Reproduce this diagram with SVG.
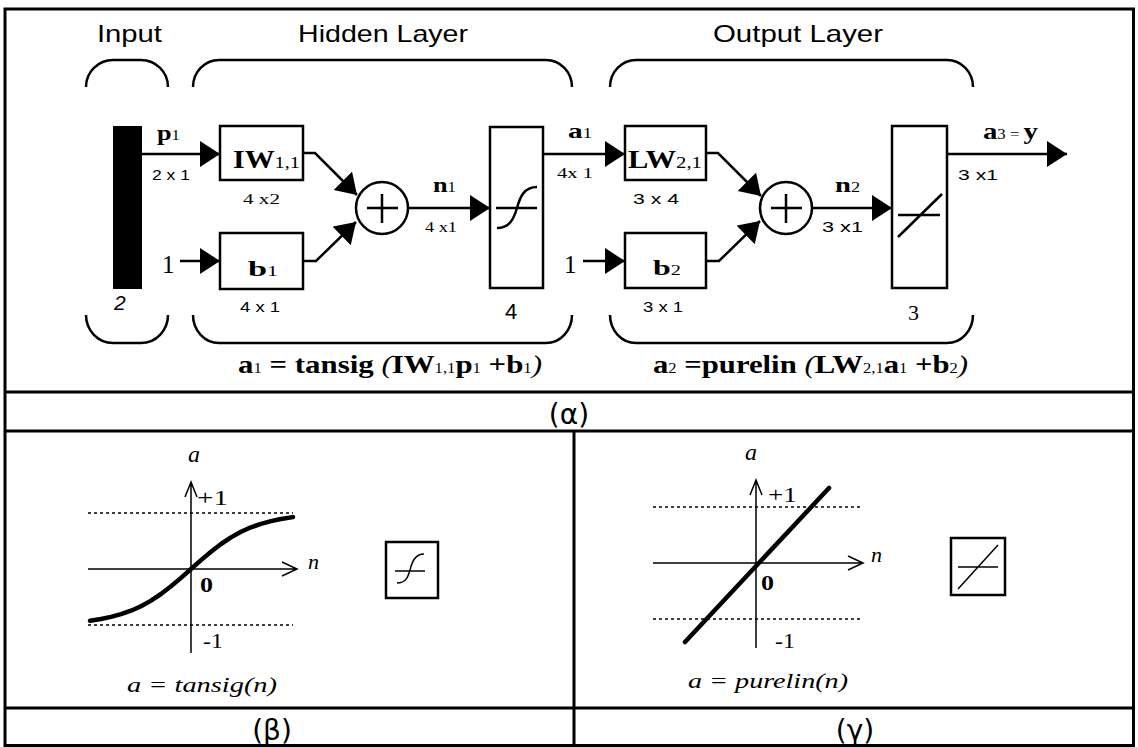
<svg xmlns="http://www.w3.org/2000/svg" width="1138" height="747" viewBox="0 0 1138 747">
<defs>
<style>
.tb{fill:none;stroke:#000;stroke-width:3}
.bx{fill:#fff;stroke:#000;stroke-width:2.5}
.ln{fill:none;stroke:#000;stroke-width:2.5}
.ax{fill:none;stroke:#000;stroke-width:1.5}
.dt{fill:none;stroke:#000;stroke-width:1.3;stroke-dasharray:3 3}
.cv{fill:none;stroke:#000;stroke-width:4.5;stroke-linecap:round;stroke-linejoin:round}
.ti{font-family:"Liberation Sans",Arial,sans-serif;font-size:24px}
.sv{font-family:"Liberation Serif","Times New Roman",serif}
.b{font-weight:bold}
.sm{font-size:14px;font-weight:normal}
.ds{font-family:"Liberation Sans",Arial,sans-serif;font-size:15px}
.cap{font-family:"DejaVu Sans",sans-serif;font-size:28px}
.it{font-style:italic}
</style>
<marker id="ah" markerUnits="userSpaceOnUse" markerWidth="22" markerHeight="28" viewBox="0 0 22 28" refX="20" refY="13" orient="auto">
<path d="M0,0 L20,13 L0,26 z" fill="#000"/>
</marker>
</defs>
<rect width="1138" height="747" fill="#fff"/>

<g id="table">
<rect x="5" y="9" width="1128.5" height="736.5" class="tb"/>
<line x1="5" y1="392" x2="1133.5" y2="392" class="tb"/>
<line x1="5" y1="431" x2="1133.5" y2="431" class="tb"/>
<line x1="5" y1="708" x2="1133.5" y2="708" class="tb"/>
<line x1="574" y1="431" x2="574" y2="745.5" class="tb"/>
</g>

<g id="titles">
<text x="97" y="42" class="ti" textLength="65" lengthAdjust="spacingAndGlyphs">Input</text>
<text x="298" y="42" class="ti" textLength="170" lengthAdjust="spacingAndGlyphs">Hidden Layer</text>
<text x="713" y="42" class="ti" textLength="170" lengthAdjust="spacingAndGlyphs">Output Layer</text>
</g>

<g id="brackets" class="ln">
<path d="M86,87 A27,27 0 0 1 113,60 H141 A27,27 0 0 1 168,87"/>
<path d="M193,87 A26,27 0 0 1 219,60 H546 A26,27 0 0 1 572,87"/>
<path d="M610,87 A26,27 0 0 1 636,60 H947 A26,27 0 0 1 973,87"/>
<path d="M86,315 A27,28 0 0 0 113,343 H141 A27,28 0 0 0 168,315"/>
<path d="M193,315 A26,28 0 0 0 219,343 H546 A26,28 0 0 0 572,315"/>
<path d="M610,315 A26,28 0 0 0 636,343 H947 A26,28 0 0 0 973,315"/>
</g>

<g id="connectors" class="ln">
<path d="M142,154 H220" marker-end="url(#ah)"/>
<path d="M180,261 H220" marker-end="url(#ah)"/>
<path d="M303,153 H315 L357,195" marker-end="url(#ah)"/>
<path d="M303,261 H316 L356,222" marker-end="url(#ah)"/>
<path d="M408,208 H490" marker-end="url(#ah)"/>
<path d="M543,154 H625" marker-end="url(#ah)"/>
<path d="M583,261 H625" marker-end="url(#ah)"/>
<path d="M706,153 H718 L761,196" marker-end="url(#ah)"/>
<path d="M706,261 H719 L760,221" marker-end="url(#ah)"/>
<path d="M812,208 H892" marker-end="url(#ah)"/>
<path d="M947,154 H1067" marker-end="url(#ah)"/>
</g>

<g id="input">
<rect x="113" y="126" width="29" height="163" fill="#000"/>
<text x="114" y="310" font-family="Liberation Sans,Arial,sans-serif" font-size="21" font-style="italic">2</text>
<text x="157" y="140" class="sv b" font-size="22" textLength="23" lengthAdjust="spacingAndGlyphs">p<tspan class="sm">1</tspan></text>
<text x="152" y="180" class="ds" textLength="38" lengthAdjust="spacingAndGlyphs">2 x 1</text>
<text x="162" y="273" class="sv" font-size="25">1</text>
</g>

<g id="iw">
<rect x="220" y="126" width="83" height="54" class="bx"/>
<text x="233" y="168" class="sv b" font-size="25" textLength="67" lengthAdjust="spacingAndGlyphs">IW<tspan font-size="17" font-weight="normal">1,1</tspan></text>
<text x="243" y="204" class="sv" font-size="15" textLength="37" lengthAdjust="spacingAndGlyphs">4 x2</text>
</g>

<g id="b1">
<rect x="220" y="233" width="83" height="56" class="bx"/>
<text x="248" y="276" class="sv b" font-size="22" textLength="30" lengthAdjust="spacingAndGlyphs">b<tspan class="sm">1</tspan></text>
<text x="240" y="312" class="ds" textLength="40" lengthAdjust="spacingAndGlyphs">4 x 1</text>
</g>

<g id="sum1">
<circle cx="382" cy="208" r="26" class="bx"/>
<path d="M367,208 H398 M382,194 V223" class="ln"/>
<text x="433" y="192" class="sv b" font-size="22" textLength="23" lengthAdjust="spacingAndGlyphs">n<tspan class="sm">1</tspan></text>
<text x="425" y="232" class="sv" font-size="15" textLength="32" lengthAdjust="spacingAndGlyphs">4 x1</text>
</g>

<g id="tansig">
<rect x="490" y="127" width="53" height="161" class="bx"/>
<path d="M496,208 H537 M497,228 C510,228 514,218 517,208 C520,197 524,187 537,187" class="ln"/>
<text x="505" y="319" font-family="Liberation Sans,Arial,sans-serif" font-size="22">4</text>
<text x="568" y="138" class="sv b" font-size="22" textLength="24" lengthAdjust="spacingAndGlyphs">a<tspan class="sm">1</tspan></text>
<text x="557" y="178" class="sv" font-size="15" textLength="36" lengthAdjust="spacingAndGlyphs">4x 1</text>
</g>

<g id="lw">
<rect x="625" y="126" width="81" height="54" class="bx"/>
<text x="628" y="168" class="sv b" font-size="25" textLength="74" lengthAdjust="spacingAndGlyphs">LW<tspan font-size="17" font-weight="normal">2,1</tspan></text>
<text x="633" y="204" class="ds" textLength="46" lengthAdjust="spacingAndGlyphs">3 x 4</text>
</g>

<g id="b2">
<text x="564" y="273" class="sv" font-size="25">1</text>
<rect x="625" y="233" width="81" height="55" class="bx"/>
<text x="653" y="275" class="sv b" font-size="22" textLength="28" lengthAdjust="spacingAndGlyphs">b<tspan class="sm">2</tspan></text>
<text x="643" y="312" class="ds" textLength="40" lengthAdjust="spacingAndGlyphs">3 x 1</text>
</g>

<g id="sum2">
<circle cx="786" cy="208" r="26" class="bx"/>
<path d="M771,208 H802 M786,194 V223" class="ln"/>
<text x="835" y="192" class="sv b" font-size="22" textLength="25" lengthAdjust="spacingAndGlyphs">n<tspan class="sm">2</tspan></text>
<text x="822" y="232" class="ds" textLength="41" lengthAdjust="spacingAndGlyphs">3 x1</text>
</g>

<g id="purelin">
<rect x="892" y="126" width="55" height="162" class="bx"/>
<path d="M898,215 H940 M898,237 L942,194" class="ln"/>
<text x="908" y="320" class="sv" font-size="22">3</text>
<text x="983" y="139" class="sv b" font-size="24" textLength="55" lengthAdjust="spacingAndGlyphs">a<tspan class="sm">3 = </tspan>y</text>
<text x="958" y="180" class="ds" textLength="40" lengthAdjust="spacingAndGlyphs">3 x1</text>
</g>

<g id="formulas">
<text x="238" y="373" class="sv b" font-size="26" textLength="304" lengthAdjust="spacingAndGlyphs">a<tspan class="sm">1</tspan> = tansig <tspan class="it" font-weight="normal">(</tspan>IW<tspan class="sm">1,1</tspan>p<tspan class="sm">1</tspan> +b<tspan class="sm">1</tspan><tspan class="it" font-weight="normal">)</tspan></text>
<text x="653" y="373" class="sv b" font-size="26" textLength="315" lengthAdjust="spacingAndGlyphs">a<tspan class="sm">2</tspan> =purelin <tspan class="it" font-weight="normal">(</tspan>LW<tspan class="sm">2,1</tspan>a<tspan class="sm">1</tspan> +b<tspan class="sm">2</tspan><tspan class="it" font-weight="normal">)</tspan></text>
</g>

<g id="captions" class="cap" text-anchor="middle">
<text x="569" y="424">(α)</text>
<text x="272" y="740">(β)</text>
<text x="855" y="740">(γ)</text>
</g>

<g id="tansig-plot">
<line x1="88" y1="513" x2="293" y2="513" class="dt"/>
<line x1="88" y1="625" x2="293" y2="625" class="dt"/>
<path d="M191,653 V482 M185,497 L191,482 L197,497" class="ax"/>
<path d="M88,569 H297 M282,562 L297,569 L282,576" class="ax"/>
<polyline class="cv" points="90,620.7 101,619 111,616.9 121,614.2 131,610.7 141,606.2 151,600.6 161,594 171,586.3 181,577.9 191,569 201,560.1 211,551.7 221,544 231,537.4 241,531.8 251,527.3 261,523.8 271,521.1 281,519 293,517.1"/>
<text x="188" y="462" class="sv it" font-size="24">a</text>
<text x="197" y="505" class="sv" font-size="22" textLength="31" lengthAdjust="spacingAndGlyphs">+1</text>
<text x="308" y="569" class="sv it" font-size="22">n</text>
<text x="200" y="592" class="sv b" font-size="20" textLength="13" lengthAdjust="spacingAndGlyphs">0</text>
<text x="203" y="648" class="sv" font-size="20" textLength="20" lengthAdjust="spacingAndGlyphs">-1</text>
<text x="127" y="692" class="sv it" font-size="22" textLength="150" lengthAdjust="spacingAndGlyphs">a = tansig(n)</text>
<rect x="386" y="542" width="52" height="56" class="bx"/>
<path d="M395,571 H425 M397,583 C406,583 408,577 410,570 C412,562 415,554 424,554" class="ax"/>
</g>

<g id="purelin-plot">
<line x1="653" y1="507" x2="860" y2="507" class="dt"/>
<line x1="653" y1="619" x2="860" y2="619" class="dt"/>
<path d="M756,648 V480 M750,495 L756,480 L762,495" class="ax"/>
<path d="M653,563 H863 M848,556 L863,563 L848,570" class="ax"/>
<line x1="685" y1="642" x2="829" y2="488" class="cv"/>
<text x="745" y="460" class="sv it" font-size="24">a</text>
<text x="768" y="502" class="sv" font-size="22" textLength="29" lengthAdjust="spacingAndGlyphs">+1</text>
<text x="871" y="562" class="sv it" font-size="22">n</text>
<text x="761" y="590" class="sv b" font-size="20" textLength="13" lengthAdjust="spacingAndGlyphs">0</text>
<text x="775" y="648" class="sv" font-size="20" textLength="20" lengthAdjust="spacingAndGlyphs">-1</text>
<text x="688" y="688" class="sv it" font-size="22" textLength="160" lengthAdjust="spacingAndGlyphs">a = purelin(n)</text>
<rect x="951" y="538" width="54" height="57" class="bx"/>
<path d="M958,567 H998 M958,589 L998,545" class="ax"/>
</g>
</svg>
